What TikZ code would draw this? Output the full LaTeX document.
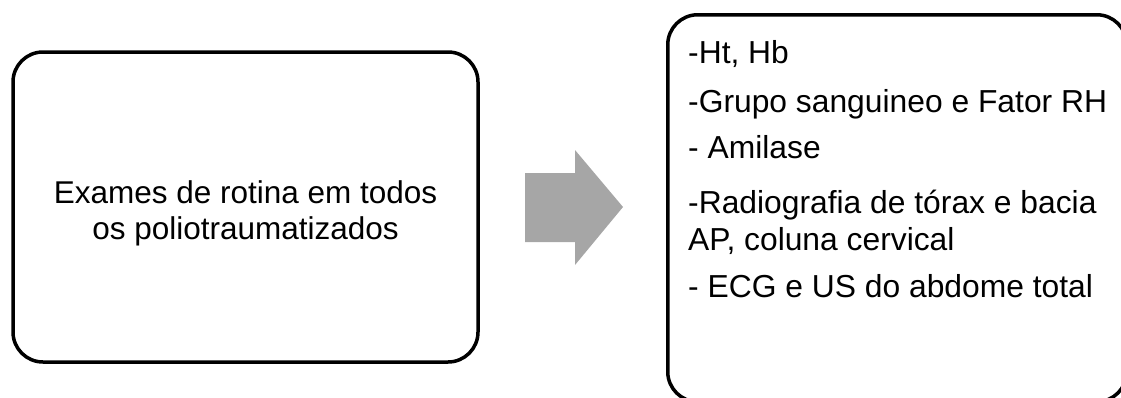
\documentclass[tikz,border=0pt]{standalone}
\usepackage{fontspec}
\setmainfont{Liberation Sans}
\definecolor{arrowgray}{HTML}{A6A6A6}

\begin{document}
\begin{tikzpicture}[x=1pt,y=-1pt,
        box/.style={draw, line width=3.5pt, rounded corners=30pt, inner sep=0pt},
        item/.style={anchor=base west, inner sep=0pt, align=left, font=\fontsize{31.8}{37}\selectfont}]
        %\draw [help lines, step=50] (0,0) grid (1121,397);
        \useasboundingbox (0,0) rectangle (1121,397);
        \clip (0,0) rectangle (1121,397);

        %the left box
        \node[box, minimum width=465pt, minimum height=310pt] (rotina) at (245.5,207) {};
        \node[align=center, inner sep=0pt, font=\fontsize{31.5}{36}\selectfont] (rotinatext) at (245.5,213) {Exames de rotina em todos\\os poliotraumatizados};

        %the grey arrow
        \fill[arrowgray] (525,173) -- (575,173) -- (575,150) -- (623,207) -- (575,265) -- (575,242) -- (525,242) -- (525,173);

        %the right box, cut by the page
        \node[box, anchor=north west, minimum width=459pt, minimum height=387pt] (exames) at (666,13) {};
        \node[item] (hb) at (688,63) {-Ht, Hb};
        \node[item] (grupo) at (688,112) {-Grupo sanguineo e Fator RH};
        \node[item] (amilase) at (688,158) {- Amilase};
        % two lines: base is the last one
        \node[item] (radio) at (688,250) {-Radiografia de tórax e bacia\\AP, coluna cervical};
        \node[item] (ecg) at (688,297) {- ECG e US do abdome total};
\end{tikzpicture}
\end{document}
